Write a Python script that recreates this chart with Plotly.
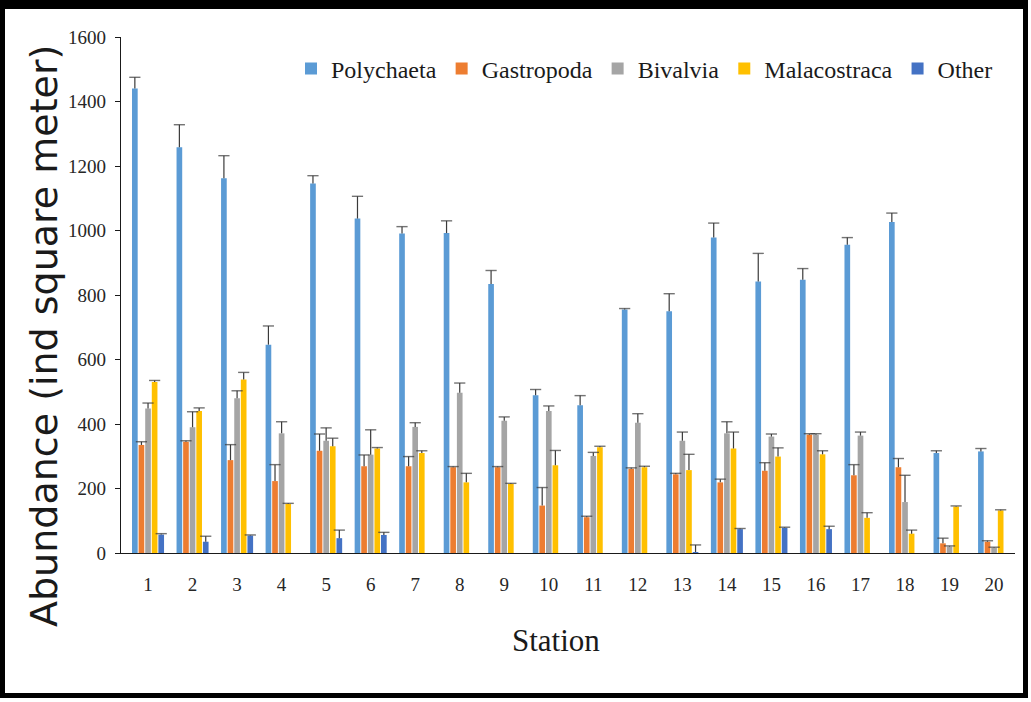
import plotly.graph_objects as go

# Benthic macrofauna abundance per station (mean and upper error)
stations = list(range(1, 21))

polychaeta = [1440, 1258, 1162, 646, 1146, 1037, 991, 992, 834, 489,
              458, 755, 750, 978, 842, 847, 956, 1026, 310, 315]
polychaeta_err = [35, 70, 70, 58, 24, 69, 21, 38, 42, 18,
                  30, 3, 54, 45, 87, 35, 22, 28, 7, 9]

gastropoda = [335, 345, 288, 223, 317, 269, 269, 266, 266, 147,
              111, 261, 244, 219, 255, 367, 241, 266, 30, 35]
gastropoda_err = [10, 3, 48, 51, 52, 35, 30, 2, 2, 56,
                  3, 3, 3, 10, 25, 3, 33, 27, 16, 3]

bivalvia = [448, 390, 480, 371, 348, 305, 391, 497, 410, 440,
            301, 404, 348, 371, 361, 367, 364, 158, 20, 16]
bivalvia_err = [17, 48, 23, 36, 40, 77, 13, 30, 12, 16,
                11, 28, 27, 36, 8, 3, 11, 83, 2, 2]

malacostraca = [530, 440, 538, 152, 331, 324, 310, 219, 214, 272,
                328, 266, 257, 324, 299, 306, 109, 60, 144, 132]
malacostraca_err = [5, 10, 22, 2, 25, 3, 7, 28, 2, 46,
                    3, 3, 49, 51, 27, 11, 16, 11, 2, 2]

other = [57, 35, 54, None, 46, 56, None, None, None, None,
         None, None, 3, 74, 78, 74, None, None, None, None]
other_err = [3, 17, 2, None, 25, 8, None, None, None, None,
             None, None, 22, 2, 2, 9, None, None, None, None]

series = [
    ("Polychaeta", polychaeta, polychaeta_err, "#5B9BD5"),
    ("Gastropoda", gastropoda, gastropoda_err, "#ED7D31"),
    ("Bivalvia", bivalvia, bivalvia_err, "#A5A5A5"),
    ("Malacostraca", malacostraca, malacostraca_err, "#FFC000"),
    ("Other", other, other_err, "#4472C4"),
]

# page geometry (pixels)
W, H = 1031, 702
L, R, T, B = 121, 1015, 37, 553


def pxx(p):
    return (p - L) / (R - L)


def pxy(p):
    return (B - p) / (B - T)


# grouped bar placement in axis units
GROUP = 0.74
SLOT = GROUP / len(series)
BAR_W = SLOT * 0.86

fig = go.Figure()

for i, (name, vals, errs, color) in enumerate(series):
    off = -GROUP / 2 + i * SLOT + (SLOT - BAR_W) / 2
    fig.add_trace(go.Bar(
        x=stations, y=vals, name=name,
        width=BAR_W, offset=off,
        marker=dict(color=color, line=dict(width=0)),
    ))
    # upward-only error bars with a cap at the top
    ex, ey, es = [], [], []
    for s, v, e in zip(stations, vals, errs):
        if v is None:
            continue
        xc = s + off + BAR_W / 2
        ex += [xc, xc, None]
        ey += [v, v + e, None]
        es += [0, 8, 0]
    fig.add_trace(go.Scatter(
        x=ex, y=ey, mode="lines+markers", showlegend=False, hoverinfo="skip",
        line=dict(color="#3a3a3a", width=1.2),
        marker=dict(symbol="line-ew", size=es,
                    line=dict(color="#3a3a3a", width=1.4)),
    ))

tick_font = dict(family="Liberation Serif", size=19, color="#262626")

fig.update_layout(
    width=W, height=H,
    margin=dict(l=L, r=W - R, t=T, b=H - B),
    paper_bgcolor="white", plot_bgcolor="white",
    barmode="overlay",
    showlegend=True,
    legend=dict(
        orientation="h", x=pxx(291), xanchor="left",
        y=pxy(69), yanchor="middle",
        font=dict(family="Liberation Serif", size=24, color="#1a1a1a"),
        bgcolor="rgba(0,0,0,0)", itemwidth=30,
        traceorder="normal",
    ),
    xaxis=dict(
        range=[0.393, 20.47], tickmode="array", tickvals=stations,
        ticktext=[str(s) for s in stations], ticks="",
        ticklabelstandoff=14,
        showgrid=False, zeroline=False,
        showline=True, linecolor="#1a1a1a", linewidth=1.3,
        tickfont=tick_font,
    ),
    yaxis=dict(
        range=[0, 1600], dtick=200, ticks="outside", ticklen=5,
        ticklabelstandoff=5,
        tickcolor="#1a1a1a", showgrid=False, zeroline=False,
        showline=True, linecolor="#1a1a1a", linewidth=1.3,
        tickfont=tick_font,
    ),
    annotations=[
        dict(text="Station", xref="paper", yref="paper",
             x=pxx(556), y=pxy(640), xanchor="center", yanchor="middle",
             showarrow=False,
             font=dict(family="Liberation Serif", size=31, color="#1a1a1a")),
        dict(text="Abundance (ind square meter)", xref="paper", yref="paper",
             x=pxx(44), y=pxy(336), xanchor="center", yanchor="middle",
             textangle=-90, showarrow=False,
             font=dict(family="DejaVu Sans", size=38, color="#1a1a1a")),
    ],
)

# thick black frame around the figure
frame = [
    (0, 0, 1028, 9),      # top
    (0, 0, 5, 698),       # left
    (1023, 0, 1028, 698),  # right
    (0, 693, 1028, 698),  # bottom
]
for x0, y0, x1, y1 in frame:
    fig.add_shape(type="rect", xref="paper", yref="paper",
                  x0=pxx(x0), x1=pxx(x1), y0=pxy(y1), y1=pxy(y0),
                  fillcolor="black", line=dict(width=0), layer="above")

fig.write_html("out.html")
